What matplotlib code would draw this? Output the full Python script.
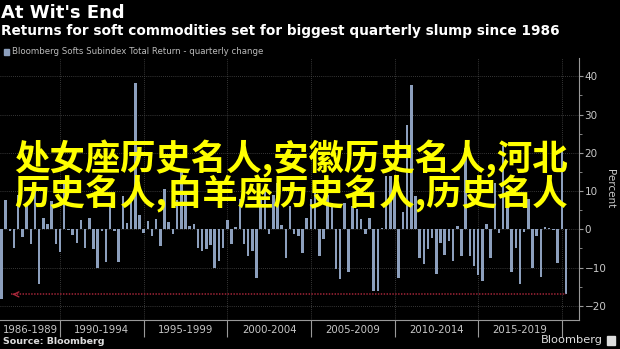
import numpy as np
import matplotlib
matplotlib.use("Agg")
import matplotlib.pyplot as plt
import matplotlib.patches as mpatches

# quarterly change of Bloomberg Softs Subindex, Q2 1986 .. Q1 2020
first_quarter = 1986.5
quarterly_change = [
    -18.2, 7.6, -0.4, -5.0, 9.0, -2.1, 7.0, -3.8, 10.0, -14.3,
    3.0, 1.4, 7.5, -3.7, -6.0, 12.0, -0.3, -1.5, -3.5, 2.4,
    -5.0, 2.9, -5.2, -10.2, -0.5, -8.5, 7.0, -0.4, -8.5, 8.6,
    1.6, 8.7, 38.2, 3.8, -1.0, 2.2, -1.7, 2.8, -4.4, 10.5,
    1.9, -1.3, 7.8, 15.0, 9.2, 1.0, 1.4, -4.8, -5.7, -5.2,
    -4.2, -10.0, -8.3, -4.8, 2.4, -3.9, 0.6, 8.0, -3.9, -7.0,
    -5.7, -12.7, 8.0, 10.0, -1.3, 9.0, 12.0, 1.1, -7.4, 6.0,
    -1.3, -1.7, -6.1, 3.0, 7.9, 10.0, -7.0, -2.6, 9.0, 7.0,
    -10.3, -12.9, 7.0, -11.2, 6.0, 5.2, 2.6, -1.3, 3.0, -16.1,
    -16.1, 0.3, 14.0, 14.0, 10.0, -12.7, 4.5, 27.3, 37.7, 8.6,
    -7.6, -9.0, -5.2, -2.2, -11.8, -3.5, -6.8, -3.1, -8.3, 0.9,
    -7.0, 21.4, -7.0, -9.6, -12.0, -13.5, 1.5, -7.4, 12.0, -0.9,
    21.8, 10.0, -11.2, -4.8, -14.4, -0.6, 8.0, -10.0, -1.7, -12.5,
    0.7, 0.4, -0.2, -8.7, 21.4, -16.8,
]
period_labels = ["1986-1989", "1990-1994", "1995-1999", "2000-2004",
                 "2005-2009", "2010-2014", "2015-2019"]
period_edges = [1986.41, 1990, 1995, 2000, 2005, 2010, 2015, 2020]
y_ticks = [-20, -10, 0, 10, 20, 30, 40]
slump_level = -17.0

W, H = 620, 349
BAR = "#8c9fbd"
GREY = "#c8c8c8"

def fx(px):
    return px / W

def fy(py):
    return 1 - py / H

fig = plt.figure(figsize=(W / 100, H / 100), dpi=100, facecolor="black")
ax = fig.add_axes([0, fy(320), fx(579), fy(58) - fy(320)], facecolor="black")

x = first_quarter + 0.25 * np.arange(len(quarterly_change))
ax.bar(x, quarterly_change, width=0.15, color=BAR, edgecolor="none", zorder=3)

ax.set_xlim(1986.41, 2021.03)
ax.set_ylim(-23.7, 44.8)

# grid
for yv in y_ticks:
    ax.axhline(yv, color="#4a4a4a", lw=0.6, ls=(0, (1, 1.5)), zorder=1)
for xv in period_edges[1:]:
    ax.axvline(xv, color="#4a4a4a", lw=0.6, ls=(0, (1, 1.5)), zorder=1)

# spines
for s in ["left", "top"]:
    ax.spines[s].set_visible(False)
ax.spines["right"].set_color("#999999")
ax.spines["bottom"].set_color("#999999")
ax.spines["right"].set_linewidth(0.8)
ax.spines["bottom"].set_linewidth(0.8)

# y axis on the right
ax.yaxis.tick_right()
ax.yaxis.set_label_position("right")
ax.set_yticks(y_ticks)
ax.set_yticks([-15, -5, 5, 15, 25, 35], minor=True)
ax.tick_params(axis="y", which="major", colors="#999999", labelcolor=GREY,
               labelsize=7.5, length=3, width=0.8, pad=1)
ax.tick_params(axis="y", which="minor", colors="#999999", length=2, width=0.6)
ax.set_ylabel("Percent", color=GREY, fontsize=7.5, rotation=270, labelpad=6)

# x axis: period separators and centered labels
ax.set_xticks(period_edges[1:])
ax.set_xticklabels([])
ax.tick_params(axis="x", colors="#999999", length=12, width=0.8, direction="out")
centers = [(a + b) / 2 for a, b in zip(period_edges[:-1], period_edges[1:])]
for c, lab in zip(centers, period_labels):
    ax.text(c, -0.018, lab, transform=ax.get_xaxis_transform(), ha="center",
            va="top", color=GREY, fontsize=7.3)

# red reference line at the slump level
ax.plot([1987.05, x[-1]], [slump_level, slump_level], color="#8a2030", lw=1.3,
        ls=(0, (0.8, 0.8)), zorder=4)
ax.annotate("", xy=(1986.98, slump_level), xytext=(1987.4, slump_level),
            arrowprops=dict(arrowstyle="->", color="#a8283a", lw=1.0,
                            mutation_scale=9), zorder=4)

# titles
fig.text(fx(1), fy(13), "At Wit's End", color="white", fontsize=13,
         fontweight="bold", va="center", ha="left")
fig.text(fx(1), fy(31), "Returns for soft commodities set for biggest quarterly slump since 1986",
         color="white", fontsize=9.8, fontweight="bold", va="center", ha="left")
fig.add_artist(mpatches.Rectangle((fx(4), fy(55)), fx(5), fy(49) - fy(55),
                                  transform=fig.transFigure, color=BAR))
fig.text(fx(12), fy(52), "Bloomberg Softs Subindex Total Return - quarterly change",
         color="#bbbbbb", fontsize=6.2, va="center", ha="left")

# footer
fig.text(fx(3), fy(342), "Source: Bloomberg", color="#dddddd", fontsize=6.8,
         fontweight="bold", va="center", ha="left")
fig.text(fx(603), fy(340), "Bloomberg", color="#dddddd", fontsize=8.2,
         va="center", ha="right")
fig.add_artist(mpatches.Rectangle((fx(607), fy(345)), fx(8), fy(336) - fy(345),
                                  transform=fig.transFigure, color="#dddddd"))

# yellow overlay text
cjk = ["Noto Sans CJK SC", "DejaVu Sans"]
fig.text(fx(14), fy(159), "处女座历史名人,安徽历史名人,河北", color="#ffff00",
         fontsize=25.5, family=cjk, fontweight="bold", va="center", ha="left")
fig.text(fx(14), fy(194), "历史名人,白羊座历史名人,历史名人", color="#ffff00",
         fontsize=25.5, family=cjk, fontweight="bold", va="center", ha="left")

fig.savefig("out.png", dpi=100, facecolor="black")
